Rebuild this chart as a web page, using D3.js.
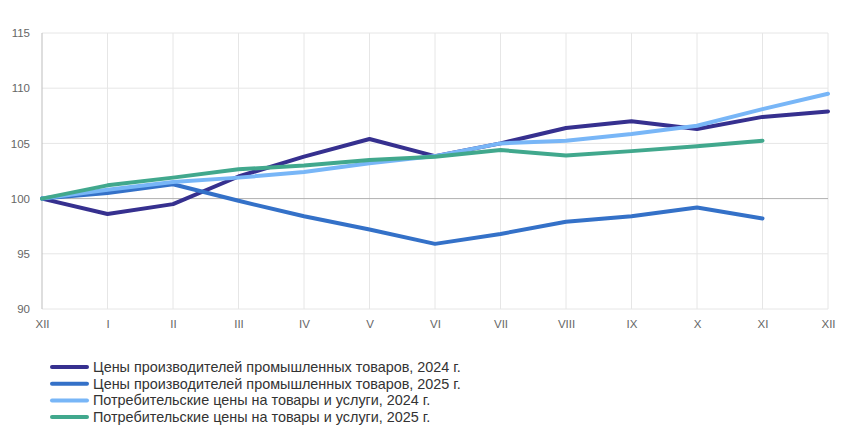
<!DOCTYPE html>
<html>
<head>
<meta charset="utf-8">
<script src="https://cdn.jsdelivr.net/npm/d3@7.9.0/dist/d3.min.js"></script>
<style>
  body { margin: 0; background: #fff; }
  svg { display: block; font-family: "Liberation Sans", Arial, sans-serif; }
</style>
</head>
<body>
<svg width="857" height="432"></svg>
<script>
const months = ["XII", "I", "II", "III", "IV", "V", "VI", "VII", "VIII", "IX", "X", "XI", "XII"];
const yTicks = [90, 95, 100, 105, 110, 115];

const ppi2024 = [100, 98.6, 99.5, 102.0, 103.8, 105.4, 103.85, 105.0, 106.4, 107.0, 106.3, 107.4, 107.9];
const ppi2025 = [100, 100.5, 101.3, 99.8, 98.4, 97.2, 95.9, 96.8, 97.9, 98.4, 99.2, 98.2];
const cpi2024 = [100, 100.8, 101.5, 101.9, 102.4, 103.2, 103.85, 105.0, 105.25, 105.85, 106.6, 108.1, 109.5];
const cpi2025 = [100, 101.2, 101.9, 102.65, 103.0, 103.5, 103.8, 104.4, 103.9, 104.3, 104.75, 105.25];

const seriesNames = [
  "Цены производителей промышленных товаров, 2024 г.",
  "Цены производителей промышленных товаров, 2025 г.",
  "Потребительские цены на товары и услуги, 2024 г.",
  "Потребительские цены на товары и услуги, 2025 г."
];
const seriesColors = ["#36308f", "#3471c8", "#78b6f7", "#41a88d"];
const series = [ppi2024, ppi2025, cpi2024, cpi2025];

const svg = d3.select("svg");
const plot = { left: 42, right: 828, top: 33, bottom: 309 };

const x = d3.scalePoint().domain(d3.range(months.length)).range([plot.left, plot.right]);
const y = d3.scaleLinear().domain([90, 115]).range([plot.bottom, plot.top]);

// grid
svg.append("g")
  .selectAll("line")
  .data(d3.range(1, months.length))
  .join("line")
  .attr("x1", (d) => x(d)).attr("x2", (d) => x(d))
  .attr("y1", plot.top).attr("y2", plot.bottom)
  .attr("stroke", "#e6e6e6");

svg.append("g")
  .selectAll("line")
  .data(yTicks)
  .join("line")
  .attr("x1", plot.left).attr("x2", plot.right)
  .attr("y1", (d) => y(d)).attr("y2", (d) => y(d))
  .attr("stroke", (d) => (d === 100 ? "#b0b0b0" : "#e6e6e6"));

// axes
svg.append("line")
  .attr("x1", plot.left).attr("x2", plot.left)
  .attr("y1", plot.top).attr("y2", plot.bottom)
  .attr("stroke", "#bdbdbd");

const yAxis = svg.append("g")
  .attr("transform", `translate(${plot.left},0)`)
  .call(d3.axisLeft(y).tickValues(yTicks).tickSize(0).tickPadding(12));
yAxis.select(".domain").remove();
yAxis.selectAll("text").attr("fill", "#666").attr("font-size", 11.5);

const xAxis = svg.append("g")
  .attr("transform", `translate(0,${plot.bottom})`)
  .call(d3.axisBottom(x).tickFormat((i) => months[i]).tickSize(0).tickPadding(11));
xAxis.select(".domain").remove();
xAxis.selectAll("text").attr("fill", "#666").attr("font-size", 11.5);

// lines
const line = d3.line()
  .x((d, i) => x(i))
  .y((d) => y(d));

series.forEach((s, i) => {
  svg.append("path")
    .datum(s)
    .attr("d", line)
    .attr("fill", "none")
    .attr("stroke", seriesColors[i])
    .attr("stroke-width", 4)
    .attr("stroke-linejoin", "round")
    .attr("stroke-linecap", "round");
});

// legend
const legend = svg.append("g").attr("transform", "translate(52,367)");
seriesNames.forEach((name, i) => {
  const g = legend.append("g").attr("transform", `translate(0,${i * 16.7})`);
  g.append("line")
    .attr("x1", 0).attr("x2", 35)
    .attr("stroke", seriesColors[i])
    .attr("stroke-width", 4)
    .attr("stroke-linecap", "round");
  g.append("text")
    .attr("x", 41)
    .attr("dy", "0.35em")
    .attr("font-size", 14.4)
    .attr("fill", "#333")
    .text(name);
});
</script>
</body>
</html>
